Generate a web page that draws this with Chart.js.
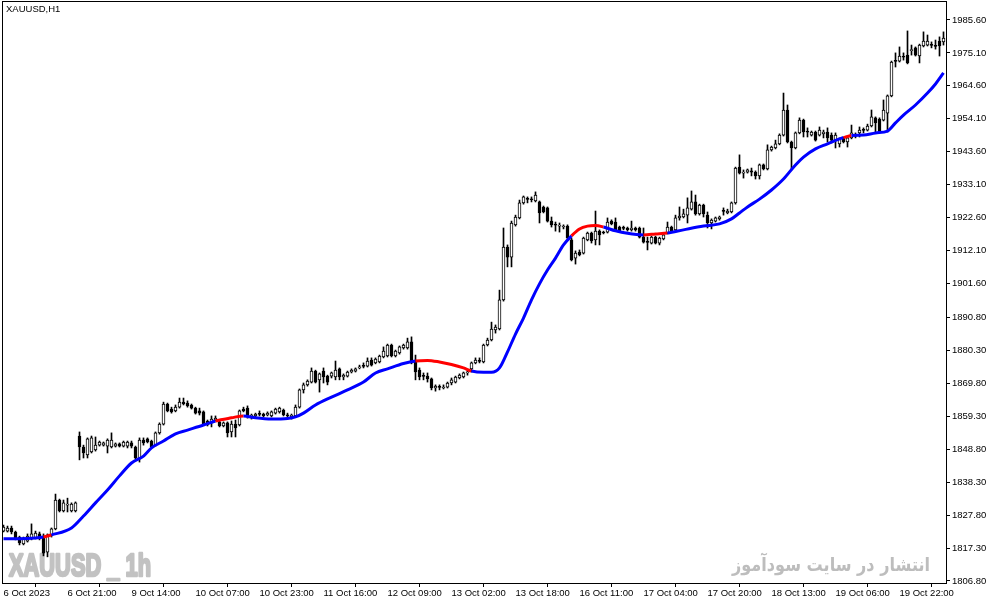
<!DOCTYPE html>
<html>
<head>
<meta charset="utf-8">
<script src="https://cdn.jsdelivr.net/npm/chart.js@4.4.0/dist/chart.umd.min.js"></script>
<style>
  html, body { margin: 0; padding: 0; background: #fff; }
  #wrap { width: 991px; height: 605px; }
</style>
</head>
<body>
<div id="wrap"><canvas id="chart" width="991" height="605"></canvas></div>
<script>
// XAUUSD H1 candles (one value per bar)
const opens = [
  1822.7,1822.7,1823.7,1822.4,1820.8,1818.6,1819.5,1820.2,1820.5,1821.8,
  1821.1,1816.0,1821.5,1823.4,1832.6,1829.1,1831.0,1829.1,1829.1,1853.0,
  1849.5,1847.0,1847.9,1848.6,1850.1,1850.1,1849.8,1849.5,1849.8,1850.5,
  1849.8,1849.8,1850.8,1849.5,1845.7,1851.7,1852.1,1851.4,1850.1,1854.0,
  1856.8,1863.2,1861.6,1861.0,1862.2,1863.8,1863.5,1862.9,1861.9,1861.0,
  1860.7,1857.8,1857.2,1858.1,1857.5,1856.2,1857.2,1854.3,1856.8,1856.5,
  1861.6,1861.9,1859.1,1859.4,1860.0,1860.0,1859.7,1859.4,1860.3,1860.7,
  1861.3,1859.7,1859.1,1859.4,1862.2,1867.7,1869.3,1870.2,1873.7,1870.9,
  1873.7,1872.1,1872.1,1871.8,1874.4,1871.8,1872.1,1873.4,1873.7,1874.7,
  1875.3,1875.3,1877.2,1876.3,1876.6,1878.2,1878.5,1882.0,1878.5,1879.5,
  1881.1,1881.1,1883.0,1876.6,1874.0,1872.1,1872.1,1871.2,1868.3,1868.6,
  1868.3,1868.6,1869.9,1870.2,1871.5,1871.8,1873.1,1874.4,1876.3,1876.9,
  1876.6,1882.0,1883.6,1886.8,1887.1,1896.4,1913.2,1910.0,1920.3,1922.5,
  1927.3,1928.5,1928.5,1927.9,1927.6,1926.0,1925.7,1921.5,1920.3,1919.9,
  1919.6,1919.9,1915.5,1909.7,1911.6,1911.3,1915.5,1917.7,1915.5,1918.3,
  1918.0,1918.0,1921.5,1921.2,1919.6,1919.3,1919.3,1918.7,1919.3,1919.3,
  1916.4,1914.8,1914.5,1916.4,1914.5,1915.8,1917.7,1919.6,1918.7,1922.5,
  1922.8,1923.4,1925.3,1927.6,1923.8,1926.6,1923.4,1920.9,1921.5,1922.2,
  1924.7,1924.1,1924.4,1927.3,1938.7,1936.8,1937.1,1937.5,1937.1,1935.9,
  1939.4,1938.1,1944.2,1944.8,1946.1,1948.9,1956.9,1946.7,1944.8,1949.6,
  1953.7,1949.9,1948.9,1949.9,1948.9,1949.3,1949.9,1948.9,1947.3,1946.1,
  1948.0,1946.7,1948.0,1948.6,1949.6,1950.5,1950.5,1951.8,1954.4,1954.0,
  1953.7,1955.9,1961.4,1972.5,1972.5,1973.8,1974.4,1975.8,1976.7,1974.1,
  1977.3,1977.6,1977.6,1977.3,1978.9,1978.6
];
const highs = [
  1824.6,1824.3,1824.3,1822.7,1821.1,1820.8,1821.8,1825.0,1822.7,1822.4,
  1821.8,1821.8,1823.7,1834.5,1832.9,1832.6,1833.2,1831.7,1832.0,1854.3,
  1850.1,1852.4,1853.0,1852.7,1851.4,1851.1,1852.1,1854.0,1850.8,1850.8,
  1851.4,1851.4,1851.4,1849.8,1852.4,1852.4,1852.4,1851.7,1854.3,1857.2,
  1863.8,1863.5,1862.2,1862.9,1865.1,1865.1,1864.2,1863.2,1862.2,1861.9,
  1861.0,1858.1,1859.4,1859.4,1858.1,1857.5,1857.5,1857.8,1858.1,1861.3,
  1862.2,1862.6,1860.0,1860.3,1861.0,1860.3,1860.7,1861.0,1861.9,1862.2,
  1861.6,1860.3,1860.0,1862.9,1868.0,1869.9,1870.9,1874.7,1874.0,1873.1,
  1874.7,1872.4,1873.4,1876.9,1874.7,1872.8,1873.7,1874.4,1874.7,1875.6,
  1876.3,1877.9,1877.9,1877.9,1878.8,1881.4,1882.3,1882.3,1880.4,1881.7,
  1882.3,1884.2,1884.6,1878.8,1874.7,1873.1,1873.1,1871.5,1869.3,1869.3,
  1869.3,1870.2,1871.5,1872.1,1872.8,1873.4,1873.7,1876.6,1877.9,1877.9,
  1882.3,1884.2,1889.3,1888.4,1899.5,1919.3,1913.9,1921.5,1923.4,1928.2,
  1929.5,1929.2,1929.2,1930.8,1927.9,1926.3,1926.0,1922.8,1921.2,1920.9,
  1920.3,1920.3,1916.1,1912.0,1912.3,1916.4,1918.0,1918.0,1924.7,1918.7,
  1918.3,1922.5,1921.9,1922.5,1919.9,1919.9,1919.6,1921.5,1919.6,1919.6,
  1919.3,1916.4,1916.7,1916.7,1916.4,1917.4,1921.2,1919.9,1923.4,1926.0,
  1925.3,1928.9,1931.1,1929.8,1926.9,1926.9,1924.4,1922.2,1922.8,1923.1,
  1925.7,1925.3,1927.6,1938.7,1942.6,1937.8,1938.1,1938.4,1937.5,1939.7,
  1939.7,1945.8,1945.4,1947.3,1949.3,1962.3,1958.5,1947.0,1949.9,1954.4,
  1954.0,1951.2,1950.2,1950.2,1951.5,1950.5,1951.2,1949.6,1949.6,1948.0,
  1948.3,1948.3,1952.1,1949.6,1951.5,1951.2,1952.4,1956.9,1954.7,1954.4,
  1960.1,1961.7,1972.5,1975.1,1977.0,1975.1,1982.1,1977.6,1977.0,1977.9,
  1981.8,1980.8,1978.6,1979.2,1980.2,1981.8
];
const lows = [
  1822.4,1822.4,1821.8,1819.9,1818.3,1818.3,1819.2,1819.9,1820.2,1819.9,
  1814.8,1814.5,1820.8,1823.1,1828.8,1828.8,1828.8,1828.8,1828.8,1845.4,
  1846.0,1846.0,1847.6,1848.2,1849.8,1849.8,1847.6,1849.2,1849.5,1849.5,
  1849.5,1849.2,1849.2,1845.7,1844.7,1850.1,1850.8,1849.2,1849.8,1853.6,
  1856.5,1860.7,1860.3,1860.7,1861.9,1862.9,1862.2,1861.6,1860.0,1859.7,
  1856.5,1856.2,1855.9,1857.8,1855.9,1855.9,1852.7,1852.7,1852.7,1856.2,
  1860.7,1858.7,1858.4,1859.1,1859.4,1859.1,1859.4,1859.1,1860.0,1860.3,
  1859.4,1859.1,1858.4,1859.1,1861.9,1866.7,1868.9,1869.9,1869.9,1867.0,
  1869.9,1869.3,1871.5,1870.9,1870.9,1870.9,1871.8,1873.1,1873.4,1874.4,
  1874.7,1875.0,1875.3,1876.0,1876.3,1877.9,1878.2,1878.2,1878.2,1879.1,
  1880.7,1880.7,1876.0,1870.9,1870.9,1870.9,1870.2,1867.7,1867.3,1867.7,
  1868.0,1868.3,1869.3,1869.9,1871.2,1871.5,1872.4,1873.4,1876.0,1876.3,
  1876.3,1881.7,1883.3,1885.8,1886.8,1896.0,1906.9,1906.9,1919.9,1922.2,
  1926.9,1927.3,1927.6,1927.6,1920.9,1924.1,1921.2,1919.6,1918.3,1918.0,
  1919.0,1915.5,1908.8,1907.8,1910.4,1911.0,1915.2,1914.5,1913.9,1913.9,
  1917.4,1917.7,1920.3,1918.3,1918.0,1918.7,1918.3,1918.3,1918.3,1916.1,
  1914.5,1912.3,1914.2,1914.2,1913.9,1915.5,1917.4,1918.0,1918.3,1921.8,
  1922.5,1920.9,1925.0,1923.4,1923.4,1922.8,1919.3,1919.0,1921.2,1921.8,
  1923.4,1923.8,1924.1,1926.9,1936.5,1935.2,1936.8,1935.9,1934.9,1934.9,
  1937.8,1937.8,1943.8,1944.5,1945.8,1948.6,1946.4,1937.8,1944.5,1949.3,
  1948.3,1948.3,1948.6,1947.0,1948.6,1948.0,1946.7,1946.4,1944.8,1945.1,
  1946.4,1945.1,1947.7,1948.0,1948.3,1949.6,1950.2,1951.5,1949.9,1949.6,
  1953.4,1949.9,1961.1,1970.6,1972.2,1972.8,1971.6,1974.4,1974.1,1971.9,
  1977.0,1977.3,1976.7,1976.3,1974.1,1977.6
];
const closes = [
  1824.0,1823.7,1822.4,1820.5,1818.9,1820.5,1821.1,1821.8,1822.1,1820.5,
  1815.7,1821.5,1823.4,1832.6,1829.1,1831.7,1831.0,1831.3,1831.7,1849.5,
  1847.6,1852.1,1852.4,1850.1,1851.1,1850.8,1851.7,1851.7,1850.5,1849.8,
  1851.1,1851.1,1849.8,1846.0,1851.7,1850.8,1851.1,1849.5,1854.0,1856.8,
  1863.2,1861.0,1860.7,1862.2,1863.8,1863.2,1862.6,1861.9,1860.3,1860.3,
  1856.8,1856.5,1858.4,1858.7,1856.2,1857.2,1854.0,1856.8,1855.6,1861.0,
  1861.0,1859.1,1859.7,1860.0,1859.9,1859.4,1860.3,1860.7,1861.6,1861.9,
  1859.7,1859.4,1859.7,1862.2,1867.7,1869.3,1870.5,1873.7,1870.2,1872.8,
  1871.8,1870.2,1873.1,1874.0,1871.8,1872.4,1873.4,1874.0,1874.4,1875.0,
  1875.2,1876.9,1875.6,1877.5,1878.5,1880.1,1882.0,1878.5,1880.1,1881.4,
  1882.0,1883.0,1876.3,1873.4,1871.8,1872.0,1871.2,1868.3,1868.9,1868.5,
  1868.6,1869.9,1870.9,1871.8,1872.4,1873.1,1873.4,1876.3,1877.2,1876.8,
  1882.0,1883.6,1887.1,1887.7,1896.4,1913.2,1910.0,1920.9,1922.8,1927.3,
  1929.2,1928.4,1928.3,1929.8,1924.1,1924.4,1921.5,1920.3,1920.2,1920.0,
  1919.7,1916.1,1909.1,1911.3,1910.7,1916.1,1917.7,1915.2,1918.3,1917.1,
  1917.7,1921.2,1920.6,1918.7,1918.3,1919.2,1918.7,1919.3,1918.7,1916.4,
  1914.8,1914.7,1916.4,1914.5,1916.1,1917.1,1919.6,1918.3,1922.5,1923.1,
  1923.8,1925.7,1927.6,1923.8,1926.6,1923.8,1920.9,1921.8,1922.5,1922.8,
  1924.6,1924.7,1927.3,1938.4,1936.8,1937.1,1937.8,1937.1,1935.9,1939.4,
  1938.1,1944.2,1945.1,1946.1,1948.9,1956.9,1946.7,1944.8,1949.6,1953.7,
  1949.9,1949.8,1949.9,1947.3,1950.5,1949.9,1948.0,1947.3,1948.9,1947.7,
  1946.7,1948.0,1949.6,1948.7,1950.5,1950.4,1951.8,1954.7,1952.8,1949.9,
  1956.9,1961.4,1972.2,1972.4,1974.1,1973.7,1971.9,1976.0,1974.4,1977.6,
  1978.9,1978.9,1977.5,1977.2,1977.3,1979.8
];

// moving average line, read at these bar numbers
const maBars = [
  0,4,8,10,12,17,20,23,26,29,32,35,37,40,43,46,50,53,57,60,
  63,67,71,73,75,78,82,86,90,93,96,100,103,106,109,112,115,117,120,122,
  124,126,128,130,132,134,136,138,140,142,144,146,148,150,153,156,160,163,166,170,
  175,179,182,184,186,189,192,195,198,200,203,206,209,210,212,215,218,221,223,225,
  228,231,233,235
];
const maValues = [
  1820.3,1820.3,1820.5,1820.8,1821.5,1823.7,1827.5,1831.7,1835.8,1840.3,
  1844.4,1846.6,1849.2,1851.4,1853.7,1854.9,1856.5,1857.8,1858.8,1859.4,
  1858.8,1858.4,1858.6,1859.1,1860.3,1862.9,1865.4,1867.7,1870.2,1873.1,
  1874.4,1876.1,1876.9,1877.1,1876.6,1875.8,1874.7,1873.7,1873.3,1873.3,
  1874.7,1879.8,1885.5,1890.6,1896.4,1901.5,1905.9,1909.7,1913.9,1916.8,
  1919.0,1919.9,1920.1,1919.6,1918.4,1917.6,1917.1,1917.4,1917.7,1918.7,
  1919.9,1920.6,1922.2,1924.1,1926.0,1928.5,1931.4,1934.9,1939.4,1941.9,
  1944.5,1946.1,1947.7,1948.1,1948.8,1948.9,1949.6,1950.2,1952.8,1955.3,
  1958.5,1962.3,1965.2,1968.7
];
// bar ranges where the average is drawn red
const redRanges = [[10,12],[53,60],[103,117],[142,150],[160,166],[210,212]];

const xTickBars = [0,16,32,48,64,80,96,112,128,144,160,176,192,208,224];
const xTickLabels = ['6 Oct 2023','6 Oct 21:00','9 Oct 14:00','10 Oct 07:00','10 Oct 23:00',
  '11 Oct 16:00','12 Oct 09:00','13 Oct 02:00','13 Oct 18:00','16 Oct 11:00',
  '17 Oct 04:00','17 Oct 20:00','18 Oct 13:00','19 Oct 06:00','19 Oct 22:00'];
const yTickValues = [1985.6,1975.1,1964.6,1954.1,1943.6,1933.1,1922.6,1912.1,1901.6,
  1890.8,1880.3,1869.8,1859.3,1848.8,1838.3,1827.8,1817.3,1806.8];

const symbolTitle = 'XAUUSD,H1';
const watermarkLeft = 'XAUUSD _ 1h';
const watermarkRight = 'انتشار در سایت سودآموز';

const FONT = '"Liberation Sans", Arial, sans-serif';

const wicks = lows.map((l, i) => ({ x: i, y: [l, highs[i]] }));
const bodies = opens.map((o, i) => ({ x: i, y: [o, closes[i]] }));
const maLine = maBars.map((b, k) => ({ x: b, y: maValues[k] }));

function isRed(bar) {
  return redRanges.some(r => bar >= r[0] && bar < r[1]);
}

const decor = {
  id: 'decor',
  beforeDatasetsDraw(chart) {
    const ctx = chart.ctx;
    // heavy condensed watermark, bottom left
    ctx.save();
    ctx.fillStyle = '#c2c2c2';
    ctx.strokeStyle = '#c2c2c2';
    ctx.lineWidth = 2.6;
    ctx.lineJoin = 'round';
    ctx.font = 'bold 32px ' + FONT;
    ctx.textBaseline = 'alphabetic';
    ctx.textAlign = 'left';
    let w = ctx.measureText(watermarkLeft).width;
    ctx.translate(9, 575.5);
    ctx.scale(142 / w, 1);
    ctx.fillText(watermarkLeft, 0, 0);
    ctx.strokeText(watermarkLeft, 0, 0);
    ctx.restore();

    ctx.save();
    ctx.fillStyle = '#bdbdbd';
    ctx.font = 'bold 19px "DejaVu Sans", sans-serif';
    ctx.textBaseline = 'alphabetic';
    ctx.textAlign = 'left';
    w = ctx.measureText(watermarkRight).width;
    ctx.translate(732, 571);
    ctx.scale(198 / w, 1);
    ctx.fillText(watermarkRight, 0, 0);
    ctx.restore();
  },
  afterDraw(chart) {
    const ctx = chart.ctx;
    const a = chart.chartArea;
    ctx.save();
    ctx.strokeStyle = '#000';
    ctx.lineWidth = 1;
    ctx.strokeRect(a.left - 0.5, a.top - 0.5, a.right - a.left + 1, a.bottom - a.top + 1);
    ctx.fillStyle = '#000';
    ctx.font = '9.5px ' + FONT;
    ctx.textBaseline = 'top';
    ctx.fillText(symbolTitle, 6, 5);
    ctx.restore();
  }
};

new Chart(document.getElementById('chart'), {
  data: {
    datasets: [
      {
        type: 'line',
        data: maLine,
        order: 0,
        borderColor: 'rgb(0,0,255)',
        borderWidth: 3,
        pointRadius: 0,
        cubicInterpolationMode: 'monotone',
        segment: {
          borderColor: c => isRed(maBars[c.p0DataIndex]) ? 'rgb(255,0,0)' : 'rgb(0,0,255)'
        }
      },
      {
        type: 'bar',
        data: bodies,
        order: 1,
        grouped: false,
        barThickness: 3,
        minBarLength: 1,
        borderWidth: 1,
        borderSkipped: false,
        borderColor: '#000',
        backgroundColor: c => closes[c.dataIndex] >= opens[c.dataIndex] ? '#fff' : '#000'
      },
      {
        type: 'bar',
        data: wicks,
        order: 2,
        grouped: false,
        barThickness: 1,
        borderWidth: 0,
        backgroundColor: '#000'
      }
    ]
  },
  options: {
    responsive: false,
    animation: false,
    layout: { padding: { left: 3, top: 2, right: 0, bottom: 0 } },
    plugins: { legend: { display: false }, tooltip: { enabled: false } },
    scales: {
      x: {
        type: 'linear',
        min: -0.125,
        max: 235.625,
        offset: false,
        border: { display: false },
        grid: { drawOnChartArea: false, tickLength: 4, color: '#000' },
        ticks: {
          autoSkip: false, maxRotation: 0, minRotation: 0, align: 'start',
          padding: 1, color: '#000', font: { family: FONT, size: 9.5 },
          callback: (v, i) => xTickLabels[i]
        },
        afterBuildTicks: s => { s.ticks = xTickBars.map(v => ({ value: v })); },
        afterFit: s => { s.height = 22; s.paddingLeft = 0; s.paddingRight = 0; }
      },
      y: {
        position: 'right',
        min: 1806.16,
        max: 1991.32,
        border: { display: false },
        grid: { drawOnChartArea: false, tickLength: 4, color: '#000' },
        ticks: {
          padding: 2, color: '#000', font: { family: FONT, size: 9.5 },
          callback: v => v.toFixed(2)
        },
        afterBuildTicks: s => { s.ticks = yTickValues.map(v => ({ value: v })); },
        afterFit: s => { s.width = 45; s.paddingTop = 0; s.paddingBottom = 0; }
      }
    }
  },
  plugins: [decor]
});
</script>
</body>
</html>
